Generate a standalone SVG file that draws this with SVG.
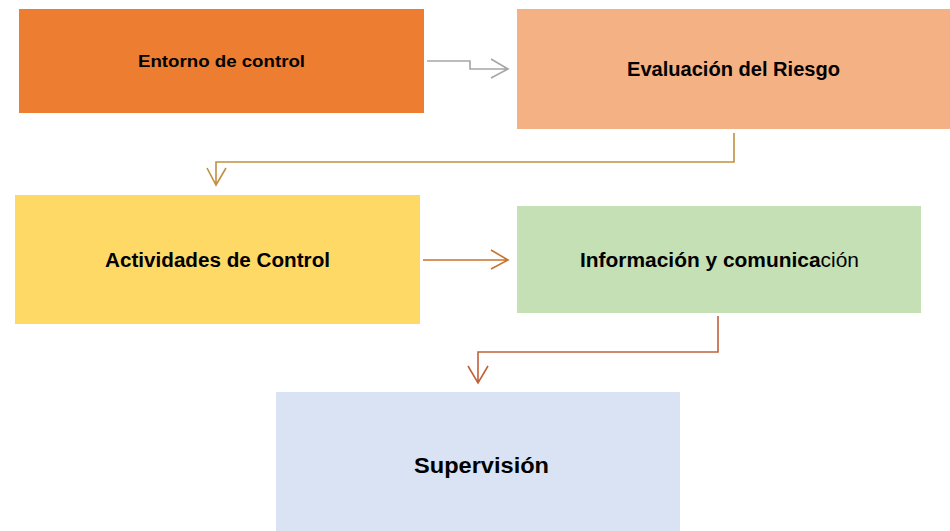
<svg xmlns="http://www.w3.org/2000/svg" width="950" height="531" viewBox="0 0 950 531">
<style>
.t{font-family:"Liberation Sans",Arial,sans-serif;font-weight:bold;fill:#000;text-anchor:middle;dominant-baseline:central}
.c{fill:none;stroke-width:1.6}
</style>
<rect width="950" height="531" fill="#fff"/>
<g id="n1"><rect x="19" y="9" width="405" height="104" fill="#ED7D31"/><text class="t" x="221.5" y="61" font-size="17" textLength="167" lengthAdjust="spacingAndGlyphs">Entorno de control</text></g>
<g id="n2"><rect x="517" y="9" width="433" height="120" fill="#F4B183"/><text class="t" x="733.5" y="69" font-size="19.5" textLength="213" lengthAdjust="spacingAndGlyphs">Evaluación del Riesgo</text></g>
<g id="n3"><rect x="15" y="195" width="405" height="129" fill="#FFD966"/><text class="t" x="217.5" y="260" font-size="19.5" textLength="225" lengthAdjust="spacingAndGlyphs">Actividades de Control</text></g>
<g id="n4"><rect x="517" y="206" width="404" height="107" fill="#C5E0B4"/><text class="t" x="719.5" y="260" font-size="19.5" textLength="279" lengthAdjust="spacingAndGlyphs">Información y comunica<tspan font-weight="normal">ción</tspan></text></g>
<g id="n5"><rect x="276" y="392" width="404" height="139" fill="#DAE3F3"/><text class="t" x="481.5" y="465" font-size="22" textLength="135" lengthAdjust="spacingAndGlyphs">Supervisión</text></g>
<g id="connectors">
<path class="c" stroke="#A6A6A6" d="M427 61H470V69H508M491 59L508 69L491 78"/>
<path class="c" stroke="#BF9040" d="M734 133V162H216V185M207 168L216 185L226 168"/>
<path class="c" stroke="#C8742E" d="M423 260H508M491 250L508 260L491 269"/>
<path class="c" stroke="#C0603A" d="M718 316V352H478V383M468 366L478 383L488 366"/>
</g>
</svg>
